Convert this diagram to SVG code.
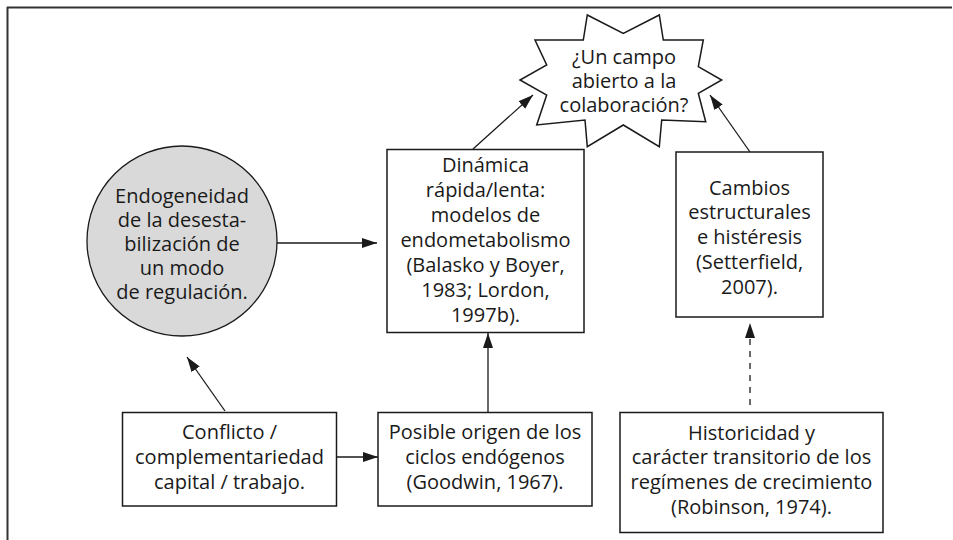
<svg xmlns="http://www.w3.org/2000/svg" width="953" height="540" viewBox="0 0 953 540">
<defs>
<style>
.box{fill:#fff;stroke:#1a1a1a;stroke-width:1.5}
.t{font-family:"Open Sans","Noto Sans",sans-serif;font-size:20px;fill:#1a1a1a;text-anchor:middle}
.c{fill:none;stroke:#1a1a1a;stroke-width:1.3}
.d{stroke-dasharray:6 6}
</style>
<marker id="ah" markerUnits="userSpaceOnUse" markerWidth="16" markerHeight="11" refX="15" refY="5" orient="auto">
<path d="M0,0 L15,5 L0,10 z" fill="#1a1a1a" stroke="none"/>
</marker>
</defs>
<rect width="953" height="540" fill="#fff"/>
<g id="frame" stroke="#333" stroke-width="2" fill="none">
<line x1="7" y1="7.5" x2="952" y2="7.5"/>
<line x1="7.5" y1="7" x2="7.5" y2="540"/>
</g>
<g id="connectors">
<line class="c" x1="277" y1="243" x2="377" y2="243" marker-end="url(#ah)"/>
<line class="c" x1="473" y1="149" x2="533" y2="95" marker-end="url(#ah)"/>
<line class="c" x1="750" y1="152" x2="710" y2="95" marker-end="url(#ah)"/>
<line class="c d" x1="750" y1="405" x2="750" y2="323" marker-end="url(#ah)"/>
<line class="c" x1="225" y1="411" x2="187" y2="357" marker-end="url(#ah)"/>
<line class="c" x1="337" y1="457" x2="378" y2="457" marker-end="url(#ah)"/>
<line class="c" x1="488" y1="412" x2="488" y2="333" marker-end="url(#ah)"/>
</g>
<g id="star">
<polygon class="box" points="587.3,15 623.3,33.3 659.3,15 663.3,40 703.3,40 698.3,66.7 721.7,80 698.3,93.3 705.7,121.7 661.7,120 659.3,146.7 623.3,125 587.3,146.7 585,120 536.7,125 546.7,95 520,80 546.7,65 535,40 583.3,40"/>
<text class="t" x="624" y="64">¿Un campo</text>
<text class="t" x="624" y="87.5">abierto a la</text>
<text class="t" x="624" y="111.5">colaboración?</text>
</g>
<g id="circle">
<circle cx="182" cy="241" r="95" fill="#d9d9d9" stroke="#1a1a1a" stroke-width="1.3"/>
<text class="t" x="182" y="203">Endogeneidad</text>
<text class="t" x="182" y="227">de la desesta-</text>
<text class="t" x="182" y="251">bilización de</text>
<text class="t" x="182" y="275">un modo</text>
<text class="t" x="182" y="298.5">de regulación.</text>
</g>
<g id="dinamica">
<rect class="box" x="387" y="149.5" width="197" height="183"/>
<text class="t" x="485.5" y="172">Dinámica</text>
<text class="t" x="485.5" y="197">rápida/lenta:</text>
<text class="t" x="485.5" y="222">modelos de</text>
<text class="t" x="485.5" y="247">endometabolismo</text>
<text class="t" x="485.5" y="272">(Balasko y Boyer,</text>
<text class="t" x="485.5" y="297">1983; Lordon,</text>
<text class="t" x="485.5" y="322">1997b).</text>
</g>
<g id="cambios">
<rect class="box" x="676" y="152" width="147" height="165"/>
<text class="t" x="749.5" y="194.5">Cambios</text>
<text class="t" x="749.5" y="218.5">estructurales</text>
<text class="t" x="749.5" y="243.5">e histéresis</text>
<text class="t" x="749.5" y="268.5">(Setterfield,</text>
<text class="t" x="749.5" y="293.5">2007).</text>
</g>
<g id="conflicto">
<rect class="box" x="122.5" y="412.5" width="214" height="93.5"/>
<text class="t" x="229.5" y="439">Conflicto /</text>
<text class="t" x="229.5" y="464">complementariedad</text>
<text class="t" x="229.5" y="489">capital / trabajo.</text>
</g>
<g id="posible">
<rect class="box" x="378" y="412.5" width="214" height="93.5"/>
<text class="t" x="485" y="439">Posible origen de los</text>
<text class="t" x="485" y="464">ciclos endógenos</text>
<text class="t" x="485" y="489">(Goodwin, 1967).</text>
</g>
<g id="historicidad">
<rect class="box" x="620" y="412.5" width="263" height="120"/>
<text class="t" x="751.5" y="439.5">Historicidad y</text>
<text class="t" x="751.5" y="464">carácter transitorio de los</text>
<text class="t" x="751.5" y="489">regímenes de crecimiento</text>
<text class="t" x="751.5" y="513.5">(Robinson, 1974).</text>
</g>
</svg>
